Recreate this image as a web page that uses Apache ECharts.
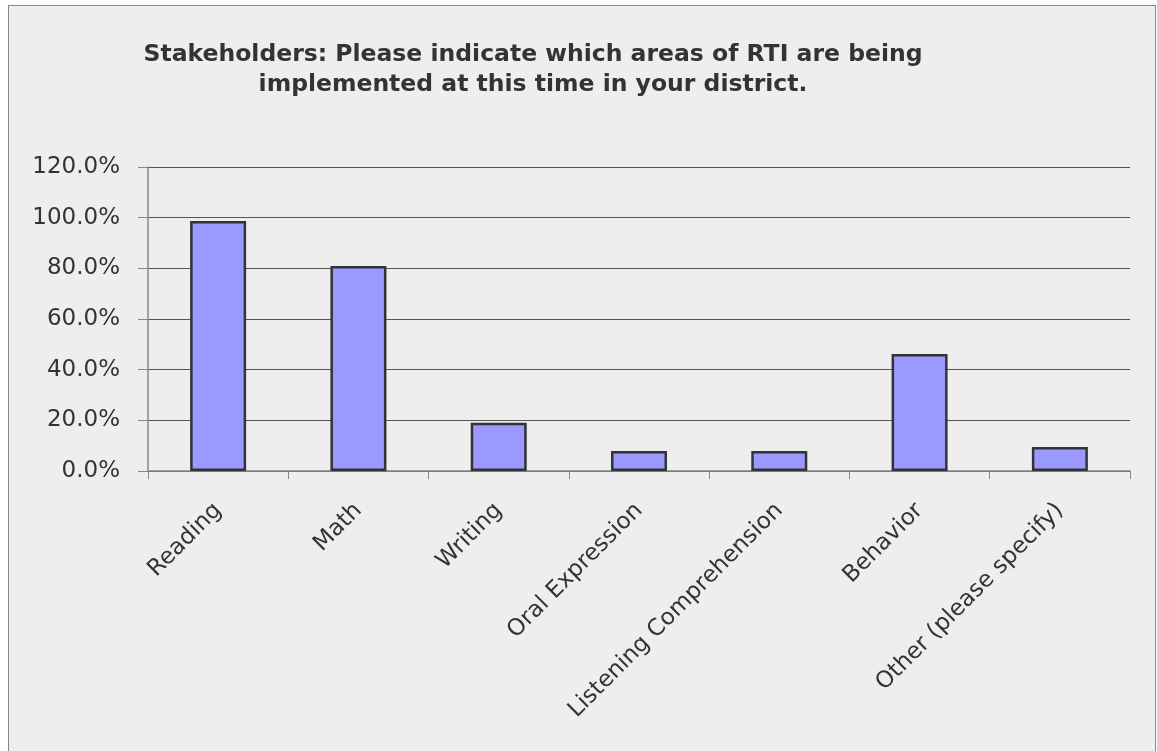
<!DOCTYPE html>
<html>
<head>
<meta charset="utf-8">
<script src="https://cdn.jsdelivr.net/npm/echarts@6/dist/echarts.min.js"></script>
<style>
  html, body { margin: 0; padding: 0; background: #ffffff; }
  #frame { position: absolute; left: 8px; top: 5px; width: 1146px; height: 760px; border: 1px solid #888; background: #eeeeee; }
  #myChart { position: absolute; left: 0; top: 0; width: 1157px; height: 751px; }
</style>
</head>
<body>
<div id="frame"></div>
<div id="myChart"></div>
<script>
// categories and values (percent)
const categories = ['Reading', 'Math', 'Writing', 'Oral Expression', 'Listening Comprehension', 'Behavior', 'Other (please specify)'];
const shares = [98.7, 80.9, 19.0, 7.9, 7.9, 46.2, 9.5];
const titleLines = ['Stakeholders: Please indicate which areas of RTI are being', 'implemented at this time in your district.'];

let myChart = echarts.init(document.getElementById('myChart'));
myChart.setOption({
  backgroundColor: 'transparent',
  textStyle: { fontFamily: 'DejaVu Sans' },
  title: {
    text: titleLines.join('\n'),
    left: 528,
    top: 35,
    textAlign: 'center',
    textStyle: {
      fontFamily: 'DejaVu Sans',
      fontWeight: 'bold',
      fontSize: 23.5,
      lineHeight: 30,
      color: '#333',
      align: 'center'
    }
  },
  grid: {
    left: 148,
    right: 27,
    top: 167,
    bottom: 280
  },
  xAxis: {
    type: 'category',
    data: categories,
    axisLine: { lineStyle: { color: '#888', width: 1.5 } },
    axisTick: { show: true, length: 8, lineStyle: { color: '#888' } },
    axisLabel: {
      rotate: 45,
      interval: 0,
      margin: 36,
      fontSize: 23,
      color: '#333'
    }
  },
  yAxis: {
    type: 'value',
    min: 0,
    max: 120,
    interval: 20,
    axisLine: { show: true, lineStyle: { color: '#888', width: 1.5 } },
    axisTick: { show: true, length: 10, lineStyle: { color: '#888' } },
    axisLabel: {
      formatter: function (v) { return v.toFixed(1) + '%'; },
      fontSize: 23,
      margin: 28,
      color: '#333'
    },
    splitLine: { lineStyle: { color: '#555', width: 1 } }
  },
  series: [
    {
      type: 'bar',
      data: shares,
      barWidth: 56,
      itemStyle: {
        color: '#9999ff',
        borderColor: '#333',
        borderWidth: 2.5
      }
    }
  ]
});
</script>
</body>
</html>
